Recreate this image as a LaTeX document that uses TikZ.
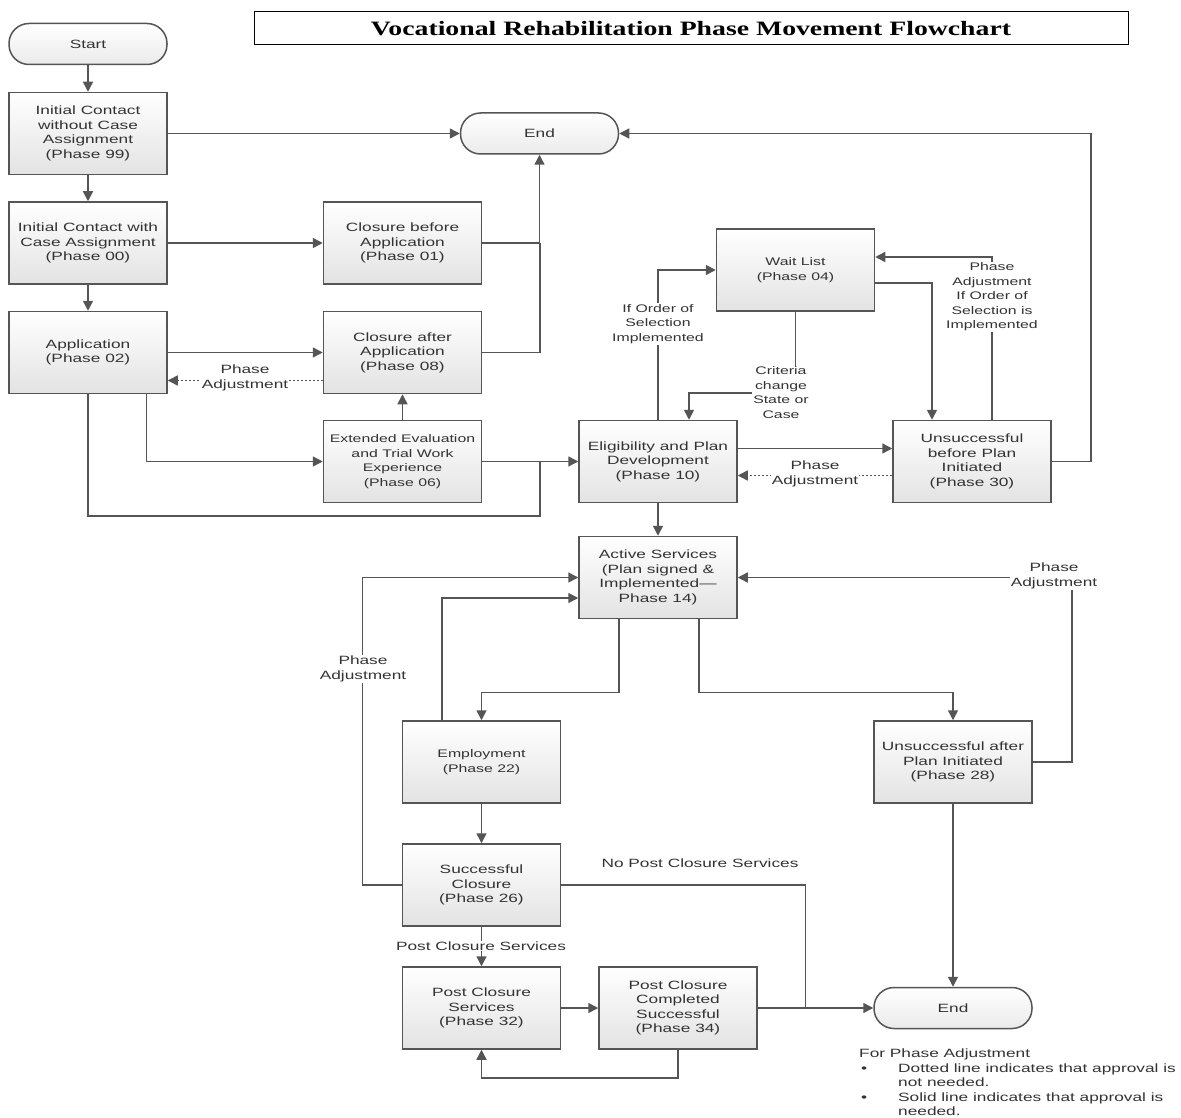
\documentclass[tikz,border=0pt]{standalone}
\usepackage{fontspec}
\setmainfont{Liberation Sans}[FakeStretch=1.44]
\newfontfamily\titlefont{Liberation Serif}[FakeStretch=1.36]
\usetikzlibrary{arrows.meta,calc}
\definecolor{ln}{HTML}{555555}
\definecolor{tx}{HTML}{333333}
\begin{document}
\begin{tikzpicture}[x=1pt,y=-1pt,
  box/.style={draw=ln,line width=1.5pt,top color=white,bottom color=black!11,
    minimum width=158pt,minimum height=82pt,align=center,text=tx,
    font=\fontsize{12}{14.5}\selectfont,inner sep=2pt},
  sbox/.style={box,font=\fontsize{11}{14.5}\selectfont},
  term/.style={draw=ln,line width=1.5pt,top color=white,bottom color=black!8,
    rounded corners=20pt,minimum width=158pt,minimum height=41pt,text=tx,
    font=\fontsize{12}{14.5}\selectfont},
  lbl/.style={fill=white,text=tx,font=\fontsize{12}{14.5}\selectfont,align=center,inner sep=1pt},
  slbl/.style={lbl,font=\fontsize{11}{14.5}\selectfont},
  con/.style={draw=ln,line width=1.5pt},
  arr/.style={con,-{Triangle[length=10pt,width=10pt]}},
  dot/.style={arr,dash pattern=on 2pt off 2pt},
  leg/.style={anchor=base west,text=tx,font=\fontsize{12}{14.5}\selectfont,inner sep=0pt}
]
\useasboundingbox[fill=white] (0,0) rectangle (1181,1118);

% title
\node[draw=black,line width=1pt,minimum width=874pt,minimum height=33pt,inner sep=0pt]
  (title) at (691,28.5) {\titlefont\bfseries\fontsize{20.4}{22}\selectfont Vocational Rehabilitation Phase Movement Flowchart};

% nodes
\node[term] (start) at (88,44) {Start};
\node[box] (b99) at (88,133.5) {Initial Contact\\without Case\\Assignment\\(Phase 99)};
\node[box] (b00) at (88,243) {Initial Contact with\\Case Assignment\\(Phase 00)};
\node[box] (b02) at (88,352.5) {Application\\(Phase 02)};
\node[term] (end1) at (539.5,133.5) {End};
\node[box] (b01) at (402.5,243) {Closure before\\Application\\(Phase 01)};
\node[box] (b08) at (402.5,352.5) {Closure after\\Application\\(Phase 08)};
\node[sbox] (b06) at (402.5,461.5) {Extended Evaluation\\and Trial Work\\Experience\\(Phase 06)};
\node[box] (b10) at (658,461.5) {Eligibility and Plan\\Development\\(Phase 10)};
\node[sbox] (b04) at (795.5,270) {Wait List\\(Phase 04)};
\node[box] (b30) at (972,461.5) {Unsuccessful\\before Plan\\Initiated\\(Phase 30)};
\node[box] (b14) at (658,577.5) {Active Services\\(Plan signed \&\\Implemented—\\Phase 14)};
\node[sbox] (b22) at (481.5,762) {Employment\\(Phase 22)};
\node[box] (b28) at (953,762) {Unsuccessful after\\Plan Initiated\\(Phase 28)};
\node[box] (b26) at (481.5,885) {Successful\\Closure\\(Phase 26)};
\node[box] (b32) at (481.5,1008) {Post Closure\\Services\\(Phase 32)};
\node[box] (b34) at (678,1008) {Post Closure\\Completed\\Successful\\(Phase 34)};
\node[term] (end2) at (953,1008) {End};

% connectors (top)
\draw[arr] (start.south) -- (b99.north);
\draw[arr] (b99.east) -- (end1.west);
\draw[arr] (b99.south) -- (b00.north);
\draw[arr] (b00.east) -- (b01.west);
\draw[arr] (b00.south) -- (b02.north);
\draw[arr] (b01.east) -| (end1.south);
\draw[con] (b08.east) -| (540,243);
\draw[arr] (b02.east) -- (b08.west);
\draw[dot] ($(b08.west)+(0,28)$) -- ($(b02.east)+(0,28)$);
\node[lbl] (l1) at (245,378) {Phase\\Adjustment};
\draw[arr] ($(b02.south)+(58.5,0)$) |- (b06.west);
\draw[arr] (b06.north) -- (b08.south);
\draw[arr] (b06.east) -- (b10.west);
\draw[con] (b02.south) |- (540,516) -- (540,461.5);

% middle right
\draw[arr] (b10.north) |- (b04.west);
\node[slbl] (l2) at (658,324) {If Order of\\Selection\\Implemented};
\draw[arr] (b04.south) |- (689,393) -- ($(b10.north)+(31,0)$);
\node[slbl] (l3) at (781,392.5) {Criteria\\change\\State or\\Case};
\draw[arr] ($(b04.east)+(0,13)$) -| ($(b30.north)+(-40,0)$);
\draw[arr] ($(b30.north)+(20,0)$) |- ($(b04.east)+(0,-13)$);
\node[slbl] (l4) at (992,297) {Phase\\Adjustment\\If Order of\\Selection is\\Implemented};
\draw[arr] ($(b10.east)+(0,-13)$) -- ($(b30.west)+(0,-13)$);
\draw[dot] ($(b30.west)+(0,14)$) -- ($(b10.east)+(0,14)$);
\node[lbl] (l5) at (815,474) {Phase\\Adjustment};
\draw[arr] (b30.east) -| (1091,133.5) -- (end1.east);

% lower part
\draw[arr] (b10.south) -- (b14.north);
\draw[arr] (b26.west) -| ($(b14.west)+(-216,0)$) -- (b14.west);
\node[lbl] (l6) at (363,669) {Phase\\Adjustment};
\draw[arr] ($(b22.north)+(-39.5,0)$) |- ($(b14.west)+(0,20.5)$);
\draw[arr] (b28.east) -| ($(b14.east)+(334,0)$) -- (b14.east);
\node[lbl] (l7) at (1054,576) {Phase\\Adjustment};
\draw[arr] ($(b14.south)+(-39,0)$) |- ($(b22.north)+(0,-28)$) -- (b22.north);
\draw[arr] ($(b14.south)+(41,0)$) |- ($(b28.north)+(0,-28)$) -- (b28.north);
\draw[arr] (b22.south) -- (b26.north);
\draw[arr] (b28.south) -- (end2.north);
\draw[con] (b26.east) -| ($(end2.west)+(-68,0)$);
\node[text=tx,font=\fontsize{12}{14.5}\selectfont] (l8) at (700,863) {No Post Closure Services};
\draw[arr] (b26.south) -- (b32.north);
\node[lbl] (l9) at (481,946) {Post Closure Services};
\draw[arr] (b32.east) -- (b34.west);
\draw[arr] (b34.east) -- (end2.west);
\draw[arr] (b34.south) -- ++(0,28) -| (b32.south);

% legend
\node[leg] (g0) at (859,1057) {For Phase Adjustment};
\node[leg] (g1) at (861,1072) {•};
\node[leg] (g2) at (898,1072) {Dotted line indicates that approval is};
\node[leg] (g3) at (898,1086.5) {not needed.};
\node[leg] (g4) at (861,1101) {•};
\node[leg] (g5) at (898,1101) {Solid line indicates that approval is};
\node[leg] (g6) at (898,1115.5) {needed.};
\end{tikzpicture}
\end{document}
